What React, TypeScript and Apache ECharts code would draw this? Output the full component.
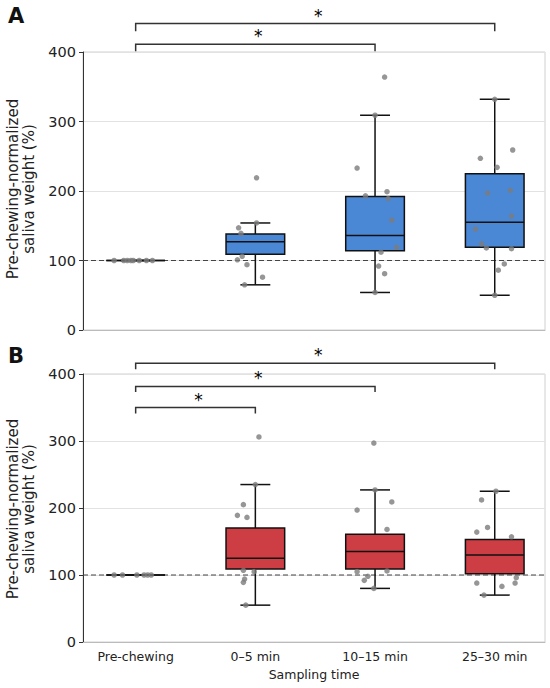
import React, { useEffect, useRef } from "react";
import * as echarts from "echarts";

// ---------- data ----------
const categories = ["Pre-chewing", "0–5 min", "10–15 min", "25–30 min"];
const yTicks = [0, 100, 200, 300, 400];
const referenceLevel = 100;

// box stats: [min(whisker), Q1, median, Q3, max(whisker)]
const boxStatsA = [
  [100, 100, 100, 100, 100],
  [65, 109, 127, 138, 154],
  [54, 114, 136, 192, 309],
  [50, 119, 155, 225, 332],
];
const boxStatsB = [
  [100, 100, 100, 100, 100],
  [55, 109, 125, 170, 235],
  [80, 109, 135, 161, 227],
  [70, 102, 130, 153, 225],
];

// individual points (values) and their horizontal jitter (category units)
const pointsA = [
  [100, 100, 100, 100, 100, 100, 100, 100],
  [147, 139, 219, 154, 106, 101, 94, 76, 65],
  [364, 309, 233, 193, 199, 189, 158, 119, 112, 92, 81, 54],
  [332, 247, 259, 234, 197, 201, 164, 145, 124, 118, 117, 95, 86, 50],
];
const jitterA = [
  [-0.18, -0.1, -0.07, -0.04, -0.02, 0.03, 0.09, 0.14],
  [-0.14, -0.12, 0.01, 0.01, -0.11, -0.15, -0.07, 0.06, -0.09],
  [0.08, 0, -0.15, -0.08, 0.1, 0.11, 0.14, 0.18, 0.05, 0.03, 0.08, 0],
  [0, -0.12, 0.15, 0.02, -0.06, 0.13, 0.14, -0.16, -0.11, -0.07, 0.14, 0.08, 0.03, 0],
];
const pointsB = [
  [100, 100, 100, 100, 100, 100],
  [306, 235, 205, 189, 186, 107, 105, 94, 89, 55],
  [297, 227, 209, 197, 168, 106, 105, 98, 92, 80],
  [225, 212, 171, 164, 157, 96, 88, 88, 83, 70],
];
const jitterB = [
  [-0.18, -0.11, 0.01, 0.07, 0.1, 0.13],
  [0.03, 0, -0.1, -0.15, -0.07, -0.1, -0.01, -0.09, -0.1, -0.08],
  [-0.01, 0, 0.14, -0.15, 0.1, 0.1, -0.15, -0.06, -0.09, -0.01],
  [0.01, -0.11, -0.06, -0.15, 0.14, 0.18, 0.17, -0.15, 0.06, -0.09],
];

// significance brackets: [fromCategory, toCategory, topValue, endValue]
const bracketsA = [
  [0, 2, 411, 401],
  [0, 3, 441, 430],
];
const bracketsB = [
  [0, 1, 350, 341],
  [0, 2, 381.5, 373],
  [0, 3, 416, 407],
];
const starLabel = "*";
const yTitleLines = ["Pre-chewing-normalized", "saliva weight (%)"];

// ---------- styling ----------
const FONT = "DejaVu Sans";
const X_MIN = -0.44;
const X_MAX = 3.42;
const BOX_W = 0.49;
const CAP_W = 0.25;
const BLUE = "#4a88d6";
const RED = "#cd3e44";
const INK = "#111111";

function boxRenderer(color: string) {
  return (params: any, api: any) => {
    const x = api.value(0);
    const pt = (v: number) => api.coord([x, v]);
    const [cx, yMin] = pt(api.value(1));
    const yQ1 = pt(api.value(2))[1];
    const yMed = pt(api.value(3))[1];
    const yQ3 = pt(api.value(4))[1];
    const yMax = pt(api.value(5))[1];
    const half = api.size([BOX_W, 0])[0] / 2;
    const cap = api.size([CAP_W, 0])[0] / 2;
    const ls = { stroke: INK, lineWidth: 1.5 };
    return {
      type: "group",
      children: [
        { type: "line", shape: { x1: cx, y1: yMax, x2: cx, y2: yQ3 }, style: ls },
        { type: "line", shape: { x1: cx, y1: yQ1, x2: cx, y2: yMin }, style: ls },
        { type: "line", shape: { x1: cx - cap, y1: yMax, x2: cx + cap, y2: yMax }, style: ls },
        { type: "line", shape: { x1: cx - cap, y1: yMin, x2: cx + cap, y2: yMin }, style: ls },
        {
          type: "rect",
          shape: { x: cx - half, y: yQ3, width: 2 * half, height: yQ1 - yQ3 },
          style: { fill: color, stroke: INK, lineWidth: 1.5 },
        },
        { type: "line", shape: { x1: cx - half, y1: yMed, x2: cx + half, y2: yMed }, style: ls },
      ],
    };
  };
}

function bracketRenderer(params: any, api: any) {
  const x1 = api.value(0);
  const x2 = api.value(1);
  const top = api.value(2);
  const end = api.value(3);
  const a = api.coord([x1, end]);
  const b = api.coord([x1, top]);
  const c = api.coord([x2, top]);
  const d = api.coord([x2, end]);
  return {
    type: "group",
    children: [
      {
        type: "polyline",
        shape: { points: [a, b, c, d] },
        style: { stroke: "#333", lineWidth: 1.5, fill: "none" },
      },
      {
        type: "text",
        x: (b[0] + c[0]) / 2 + 3,
        y: b[1] - 8,
        style: {
          text: starLabel,
          fontSize: 17,
          fontFamily: FONT,
          fill: "#000",
          align: "center",
          verticalAlign: "middle",
        },
      },
    ],
  };
}

function buildPanel(
  gridIndex: number,
  stats: number[][],
  pts: number[][],
  jit: number[][],
  brackets: number[][],
  color: string
) {
  const scatter: number[][] = [];
  pts.forEach((vals, i) => vals.forEach((v, k) => scatter.push([i + jit[i][k], v])));
  return [
    {
      type: "line",
      xAxisIndex: gridIndex,
      yAxisIndex: gridIndex,
      data: [
        [X_MIN, referenceLevel],
        [X_MAX, referenceLevel],
      ],
      symbol: "none",
      silent: true,
      lineStyle: { color: "#444", width: 1.2, type: [5, 3] },
      z: 1,
    },
    {
      type: "custom",
      xAxisIndex: gridIndex,
      yAxisIndex: gridIndex,
      renderItem: boxRenderer(color),
      encode: { x: 0, y: [1, 2, 3, 4, 5] },
      data: stats.map((s, i) => [i, ...s]),
      z: 2,
    },
    {
      type: "scatter",
      xAxisIndex: gridIndex,
      yAxisIndex: gridIndex,
      data: scatter,
      symbolSize: 5.5,
      itemStyle: { color: "#7c7c7c", opacity: 0.8 },
      z: 3,
    },
    {
      type: "custom",
      xAxisIndex: gridIndex,
      yAxisIndex: gridIndex,
      clip: false,
      renderItem: bracketRenderer,
      itemStyle: { color: "#000" },
      encode: { x: [0, 1], y: [2, 3] },
      data: brackets,
      z: 4,
    },
  ];
}

function yAxisFor(gridIndex: number) {
  return {
    type: "value",
    gridIndex,
    min: yTicks[0],
    max: yTicks[yTicks.length - 1],
    interval: 100,
    axisLine: { show: true, onZero: false, lineStyle: { color: "#333", width: 1 } },
    axisTick: { show: true, length: 4, lineStyle: { color: "#333" } },
    axisLabel: { fontSize: 14.5, fontFamily: FONT, color: "#222", margin: 7 },
    splitLine: { show: true, lineStyle: { color: "#e2e2e2", width: 1 } },
  };
}

function titleText(x: number, y: number, text: string) {
  return {
    type: "text",
    x,
    y,
    rotation: Math.PI / 2,
    style: {
      text,
      fontSize: 15,
      fontFamily: FONT,
      fill: "#222",
      align: "center",
      verticalAlign: "middle",
    },
  };
}

export default function App() {
  const ref = useRef<HTMLDivElement>(null);
  useEffect(() => {
    const chart = echarts.init(ref.current!, null, { renderer: "svg" });
    const option: any = {
      animation: false,
      backgroundColor: "#ffffff",
      grid: [
        { left: 83, top: 52, width: 462, height: 278, show: true, borderColor: "#d0d0d0", borderWidth: 1 },
        { left: 83, top: 374, width: 462, height: 268, show: true, borderColor: "#d0d0d0", borderWidth: 1 },
      ],
      xAxis: [
        {
          type: "value",
          gridIndex: 0,
          min: X_MIN,
          max: X_MAX,
          axisLine: { show: true, onZero: false, lineStyle: { color: "#bbb" } },
          axisTick: { show: false },
          axisLabel: { show: false },
          splitLine: { show: false },
        },
        {
          type: "value",
          gridIndex: 1,
          min: X_MIN,
          max: X_MAX,
          axisLine: { show: true, onZero: false, lineStyle: { color: "#bbb" } },
          axisTick: { show: false },
          axisLabel: {
            show: true,
            customValues: categories.map((_, i) => i),
            formatter: (v: number) => categories[Math.round(v)] ?? "",
            fontSize: 12.5,
            fontFamily: FONT,
            color: "#222",
            margin: 8,
          },
          splitLine: { show: false },
          name: "Sampling time",
          nameLocation: "middle",
          nameGap: 26,
          nameTextStyle: { fontSize: 12.5, fontFamily: FONT, color: "#222" },
        },
      ],
      yAxis: [yAxisFor(0), yAxisFor(1)],
      graphic: [
        {
          type: "text",
          x: 16,
          y: 16,
          style: { text: "A", fontSize: 21, fontWeight: "bold", fontFamily: FONT, fill: "#111", align: "center", verticalAlign: "middle" },
        },
        {
          type: "text",
          x: 16,
          y: 356,
          style: { text: "B", fontSize: 21, fontWeight: "bold", fontFamily: FONT, fill: "#111", align: "center", verticalAlign: "middle" },
        },
        titleText(12.5, 189, yTitleLines[0]),
        titleText(29, 189, yTitleLines[1]),
        titleText(12.5, 509, yTitleLines[0]),
        titleText(29, 509, yTitleLines[1]),
      ],
      series: [
        ...buildPanel(0, boxStatsA, pointsA, jitterA, bracketsA, BLUE),
        ...buildPanel(1, boxStatsB, pointsB, jitterB, bracketsB, RED),
      ],
    };
    chart.setOption(option);
    return () => chart.dispose();
  }, []);
  return (
    <div
      ref={ref}
      style={{ position: "absolute", left: 0, top: 0, width: 550, height: 688, background: "#fff" }}
    />
  );
}
